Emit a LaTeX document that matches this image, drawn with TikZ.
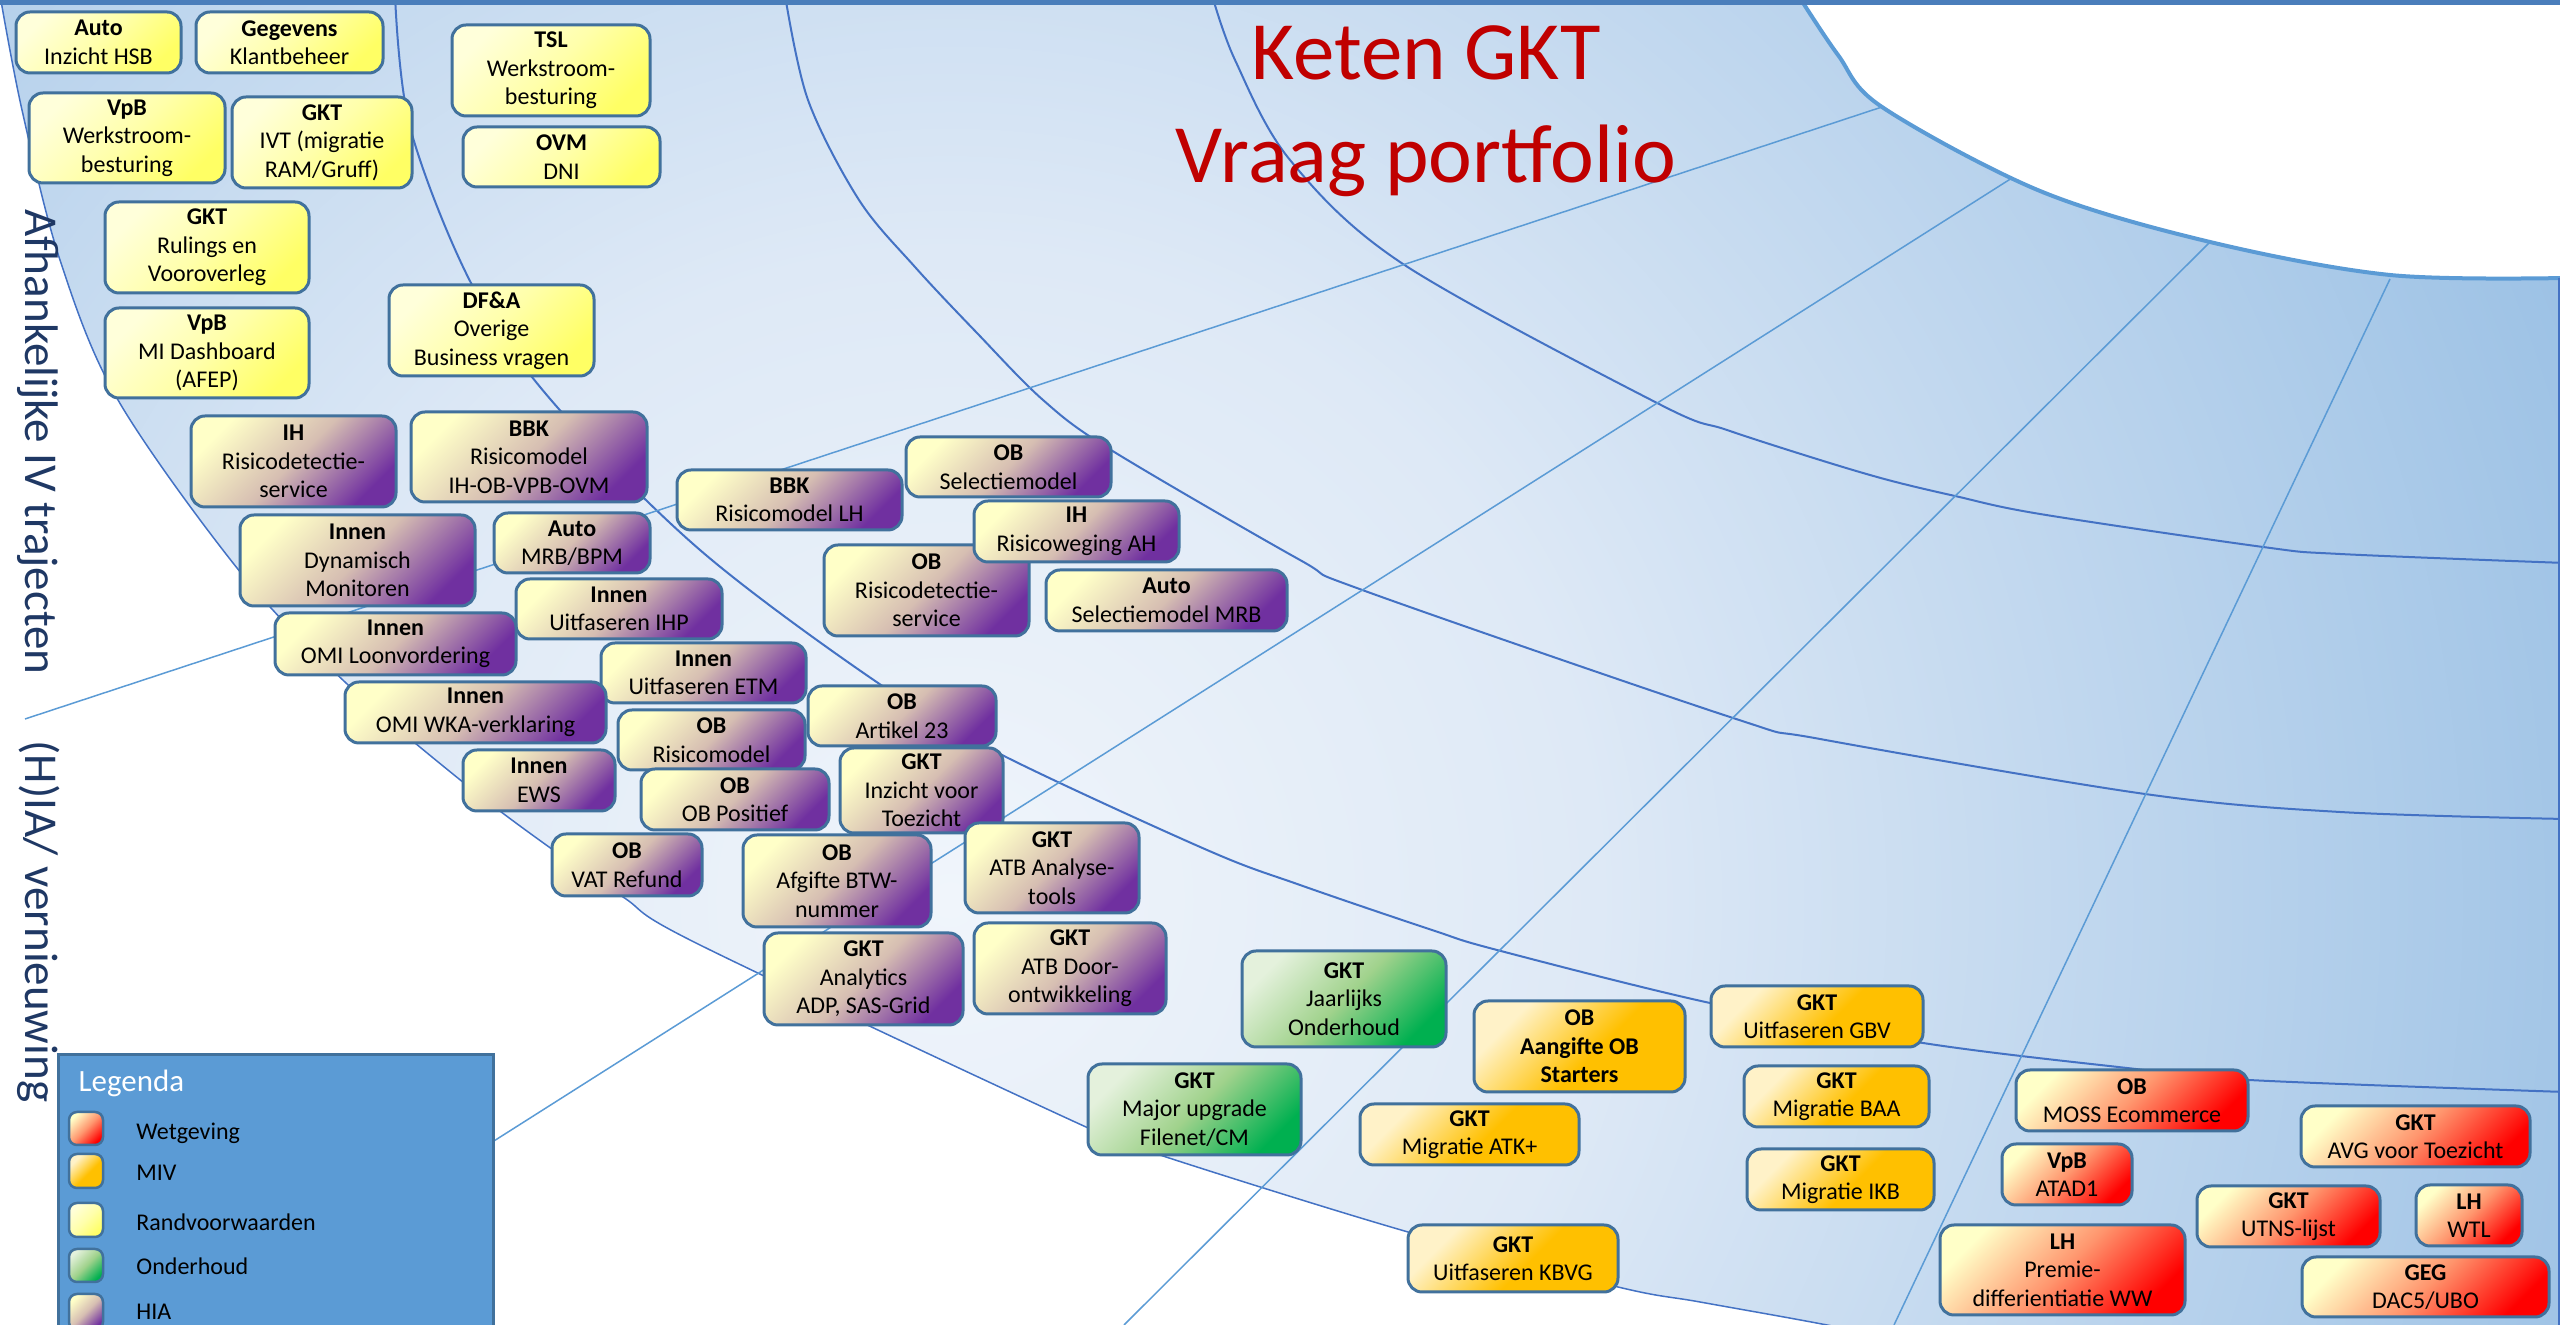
\documentclass[tikz,border=0pt]{standalone}
\usepackage{fontspec}
\setmainfont{Carlito}
\definecolor{bd}{RGB}{65,113,156}
\definecolor{arcc}{RGB}{68,114,196}
\definecolor{radc}{RGB}{91,155,213}
\definecolor{topc}{RGB}{74,126,187}
\definecolor{bgA}{RGB}{240,245,251}
\definecolor{bgM}{RGB}{222,233,246}
\definecolor{bgB}{RGB}{152,191,228}
\definecolor{titlec}{RGB}{192,0,0}
\definecolor{sidec}{RGB}{31,56,100}
\definecolor{legc}{RGB}{91,155,213}
\definecolor{ryA}{RGB}{255,255,218}
\definecolor{ryM}{RGB}{255,255,170}
\definecolor{ryB}{RGB}{255,255,100}
\definecolor{hiA}{RGB}{255,255,200}
\definecolor{hiM}{RGB}{214,190,178}
\definecolor{hiB}{RGB}{112,48,160}
\definecolor{weA}{RGB}{255,255,200}
\definecolor{weM}{RGB}{255,150,110}
\definecolor{weB}{RGB}{255,0,0}
\definecolor{mvA}{RGB}{255,242,200}
\definecolor{mvB}{RGB}{255,192,0}
\definecolor{gnA}{RGB}{228,241,220}
\definecolor{gnM}{RGB}{160,210,140}
\definecolor{gnB}{RGB}{0,176,80}
\pgfdeclareradialshading{bgshade}{\pgfpoint{0bp}{0bp}}{color(0bp)=(bgA); color(9bp)=(bgM); color(25bp)=(bgB); color(50bp)=(bgB)}
\pgfdeclareverticalshading{mvsh}{100bp}{color(0bp)=(mvB); color(45bp)=(mvB); color(72bp)=(mvA); color(100bp)=(mvA)}
\newcommand\ktbox{\fontsize{6.83pt}{8.1pt}\selectfont}
\newcommand\kttitle{\fontsize{23.6pt}{29pt}\selectfont}
\newcommand\ktside{\fontsize{13.4pt}{16pt}\selectfont}
\newcommand\ktleg{\fontsize{8.8pt}{10.5pt}\selectfont}
\newcommand\kbox[7]{\node[#2, minimum width={(#5-#3)*0.1mm}, minimum height={(#6-#4)*0.1mm}] (#1) at ({(#3+#5)/2},{(#4+#6)/2}) {#7};}
\begin{document}
\begin{tikzpicture}[x=0.1mm,y=-0.1mm,
  box/.style={draw=bd,line width=0.3mm,rounded corners=1.4mm,inner sep=0pt,align=center,font=\ktbox,text=black},
  ry/.style={box,top color=ryA,bottom color=ryB,middle color=ryM,shading angle=45},
  hi/.style={box,top color=hiA,bottom color=hiB,middle color=hiM,shading angle=45},
  we/.style={box,top color=weA,bottom color=weB,middle color=weM,shading angle=45},
  mv/.style={box,shade,shading=mvsh,shading angle=45},
  gn/.style={box,top color=gnA,bottom color=gnB,middle color=gnM,shading angle=45},
  arcline/.style={draw=arcc,line width=0.2mm},
  radline/.style={draw=radc,line width=0.15mm},
  swatch/.style={line width=0.25mm,rounded corners=0.8mm},
  legitem/.style={anchor=base west,font=\ktbox,text=black}
]
\useasboundingbox (0,0) rectangle (2560,1325);
\clip (0,0) rectangle (2560,1325);
% background region
\begin{scope}
\clip plot[smooth,tension=0.55] coordinates {(0,-5) (22,110) (60,260) (118,400) (241,573) (346,683) (464,783) (549,847) (623,897) (700,945) (1086,1127) (1166,1157) (1408,1232) (1618,1287) (1700,1302) (1827,1325) (1960,1352)} -- (2570,1352) -- (2570,278) -- plot[smooth,tension=0.55] coordinates {(2565,278) (2390,275) (2210,242) (2040,191) (1882,107) (1838,55) (1798,-5)} -- cycle;
\shade[shading=bgshade] (950,900) circle[radius=1800];
\end{scope}
% boundary lines
\draw[arcline,line width=0.15mm] plot[smooth,tension=0.55] coordinates {(0,-5) (22,110) (60,260) (118,400) (241,573) (346,683) (464,783) (549,847) (623,897) (700,945) (1086,1127) (1166,1157) (1408,1232) (1618,1287) (1700,1302) (1827,1325) (1960,1352)};
\draw[draw=radc,line width=0.4mm] plot[smooth,tension=0.55] coordinates {(2565,278) (2390,275) (2210,242) (2040,191) (1882,107) (1838,55) (1798,-5)};
\draw[arcline,line width=0.15mm] (2559,278) -- (2559,1330);
% arcs
\draw[arcline] plot[smooth,tension=0.55] coordinates {(395,-5) (410,127) (471,283) (551,400) (700,550) (881,685) (1002,755) (1207,850) (1300,885) (1432,930) (1497,950) (1710,1003) (1923,1043) (2127,1068) (2249,1080) (2565,1092)};
\draw[arcline] plot[smooth,tension=0.55] coordinates {(785,-5) (808,100) (859,200) (915,267) (977,333) (1043,400) (1111,450) (1300,560) (1365,591) (1733,718) (1820,739) (2145,794) (2340,812) (2565,819)};
\draw[arcline] plot[smooth,tension=0.55] coordinates {(1212,-5) (1235,60) (1290,160) (1403,264) (1659,404) (1727,430) (1820,460) (1888,480) (1955,496) (2040,514) (2263,547) (2340,554) (2565,563)};
% radial lines
\draw[radline] (25,719) -- (1882,107);
\draw[radline] (300,1264) -- (2012,178);
\draw[radline] (1124,1325) -- (2210,242);
\draw[radline] (1894,1325) -- (2390,279);
% top line
\draw[draw=topc,line width=0.5mm] (0,2.5) -- (2560,2.5);
% Randvoorwaarden
\kbox{a1}{ry}{16}{12}{181}{73}{\textbf{Auto}\\Inzicht HSB}
\kbox{a2}{ry}{196}{12}{383}{73}{\textbf{Gegevens}\\Klantbeheer}
\kbox{a3}{ry}{452}{25}{650}{116}{\textbf{TSL}\\Werkstroom-\\besturing}
\kbox{a4}{ry}{29}{93}{225}{183}{\textbf{VpB}\\Werkstroom-\\besturing}
\kbox{a5}{ry}{232}{97}{412}{188}{\textbf{GKT}\\IVT (migratie\\RAM/Gruff)}
\kbox{a6}{ry}{463}{127}{660}{187}{\textbf{OVM}\\DNI}
\kbox{a7}{ry}{105}{202}{309}{293}{\textbf{GKT}\\Rulings en\\Vooroverleg}
\kbox{a8}{ry}{105}{308}{309}{398}{\textbf{VpB}\\MI Dashboard\\(AFEP)}
\kbox{a9}{ry}{389}{285}{594}{376}{\textbf{DF\&A}\\Overige\\Business vragen}
% HIA
\kbox{h1}{hi}{191}{416}{396}{507}{\textbf{IH}\\Risicodetectie-\\service}
\kbox{h2}{hi}{411}{412}{647}{502}{\textbf{BBK}\\Risicomodel\\IH-OB-VPB-OVM}
\kbox{h3}{hi}{240}{515}{475}{606}{\textbf{Innen}\\Dynamisch\\Monitoren}
\kbox{h4}{hi}{494}{513}{650}{573}{\textbf{Auto}\\MRB/BPM}
\kbox{h5}{hi}{516}{579}{722}{639}{\textbf{Innen}\\Uitfaseren IHP}
\kbox{h6}{hi}{275}{613}{516}{675}{\textbf{Innen}\\OMI Loonvordering}
\kbox{h7}{hi}{601}{643}{806}{703}{\textbf{Innen}\\Uitfaseren ETM}
\kbox{h8}{hi}{345}{682}{606}{743}{\textbf{Innen}\\OMI WKA-verklaring}
\kbox{h9}{hi}{618}{710}{805}{770}{\textbf{OB}\\Risicomodel}
\kbox{h10}{hi}{463}{750}{615}{811}{\textbf{Innen}\\EWS}
\kbox{h11}{hi}{641}{769}{829}{830}{\textbf{OB}\\OB Positief}
\kbox{h12}{hi}{808}{686}{996}{746}{\textbf{OB}\\Artikel 23}
\kbox{h13}{hi}{840}{748}{1003}{833}{\textbf{GKT}\\Inzicht voor\\Toezicht}
\kbox{h14}{hi}{552}{834}{702}{896}{\textbf{OB}\\VAT Refund}
\kbox{h15}{hi}{743}{835}{931}{927}{\textbf{OB}\\Afgifte BTW-\\nummer}
\kbox{h16}{hi}{965}{823}{1139}{913}{\textbf{GKT}\\ATB Analyse-\\tools}
\kbox{h17}{hi}{764}{933}{963}{1025}{\textbf{GKT}\\Analytics\\ADP, SAS-Grid}
\kbox{h18}{hi}{974}{923}{1166}{1014}{\textbf{GKT}\\ATB Door-\\ontwikkeling}
\kbox{h19}{hi}{677}{470}{902}{530}{\textbf{BBK}\\Risicomodel LH}
\kbox{h20}{hi}{906}{437}{1111}{497}{\textbf{OB}\\Selectiemodel}
\kbox{h21}{hi}{824}{545}{1029}{636}{\textbf{OB}\\Risicodetectie-\\service}
\kbox{h22}{hi}{974}{501}{1179}{562}{\textbf{IH}\\Risicoweging AH}
\kbox{h23}{hi}{1046}{570}{1287}{631}{\textbf{Auto}\\Selectiemodel MRB}
% Onderhoud
\kbox{g1}{gn}{1242}{951}{1446}{1047}{\textbf{GKT}\\Jaarlijks\\Onderhoud}
\kbox{g2}{gn}{1088}{1064}{1301}{1155}{\textbf{GKT}\\Major upgrade\\Filenet/CM}
% MIV
\kbox{m1}{mv}{1474}{1001}{1685}{1092}{\textbf{OB}\\\textbf{Aangifte OB}\\\textbf{Starters}}
\kbox{m2}{mv}{1360}{1104}{1579}{1165}{\textbf{GKT}\\Migratie ATK+}
\kbox{m3}{mv}{1408}{1225}{1618}{1292}{\textbf{GKT}\\Uitfaseren KBVG}
\kbox{m4}{mv}{1711}{986}{1923}{1047}{\textbf{GKT}\\Uitfaseren GBV}
\kbox{m5}{mv}{1744}{1066}{1929}{1127}{\textbf{GKT}\\Migratie BAA}
\kbox{m6}{mv}{1747}{1149}{1934}{1210}{\textbf{GKT}\\Migratie IKB}
% Wetgeving
\kbox{w1}{we}{2016}{1070}{2248}{1131}{\textbf{OB}\\MOSS Ecommerce}
\kbox{w2}{we}{2002}{1144}{2132}{1205}{\textbf{VpB}\\ATAD1}
\kbox{w3}{we}{1940}{1225}{2185}{1315}{\textbf{LH}\\Premie-\\differientiatie WW}
\kbox{w4}{we}{2301}{1106}{2530}{1167}{\textbf{GKT}\\AVG voor Toezicht}
\kbox{w5}{we}{2197}{1186}{2380}{1247}{\textbf{GKT}\\UTNS-lijst}
\kbox{w6}{we}{2416}{1185}{2522}{1246}{\textbf{LH}\\WTL}
\kbox{w7}{we}{2302}{1257}{2549}{1317}{\textbf{GEG}\\DAC5/UBO}
% title
\node[font=\kttitle,text=titlec,anchor=base] (t1) at (1426,80) {Keten GKT};
\node[font=\kttitle,text=titlec,anchor=base] (t2) at (1426,183) {Vraag portfolio};
% side texts
\node[font=\ktside,text=sidec,rotate=-90,anchor=base west,inner sep=0pt] (s1) at (25,209) {Afhankelijke IV trajecten};
\node[font=\ktside,text=sidec,rotate=-90,anchor=base west,inner sep=0pt] (s2) at (25,740) {(H)IA/ vernieuwing};
% legend
\node[draw=bd,fill=legc,line width=0.3mm,inner sep=0pt,minimum width=43.5mm,minimum height=30mm,anchor=north west] (leg) at (57,1053) {};
\node[font=\ktleg,text=white,anchor=base west,inner sep=0pt] (legt) at (78,1092) {Legenda};
\kbox{sw1}{we,swatch}{69}{1112}{103}{1145}{}
\node[legitem] (l1) at (124,1140) {Wetgeving};
\kbox{sw2}{mv,swatch}{69}{1154}{103}{1188}{}
\node[legitem] (l2) at (124,1181) {MIV};
\kbox{sw3}{ry,swatch}{69}{1203}{103}{1237}{}
\node[legitem] (l3) at (124,1231) {Randvoorwaarden};
\kbox{sw4}{gn,swatch}{69}{1249}{103}{1282}{}
\node[legitem] (l4) at (124,1275) {Onderhoud};
\kbox{sw5}{hi,swatch}{69}{1294}{103}{1330}{}
\node[legitem] (l5) at (124,1320) {HIA};
\end{tikzpicture}
\end{document}
